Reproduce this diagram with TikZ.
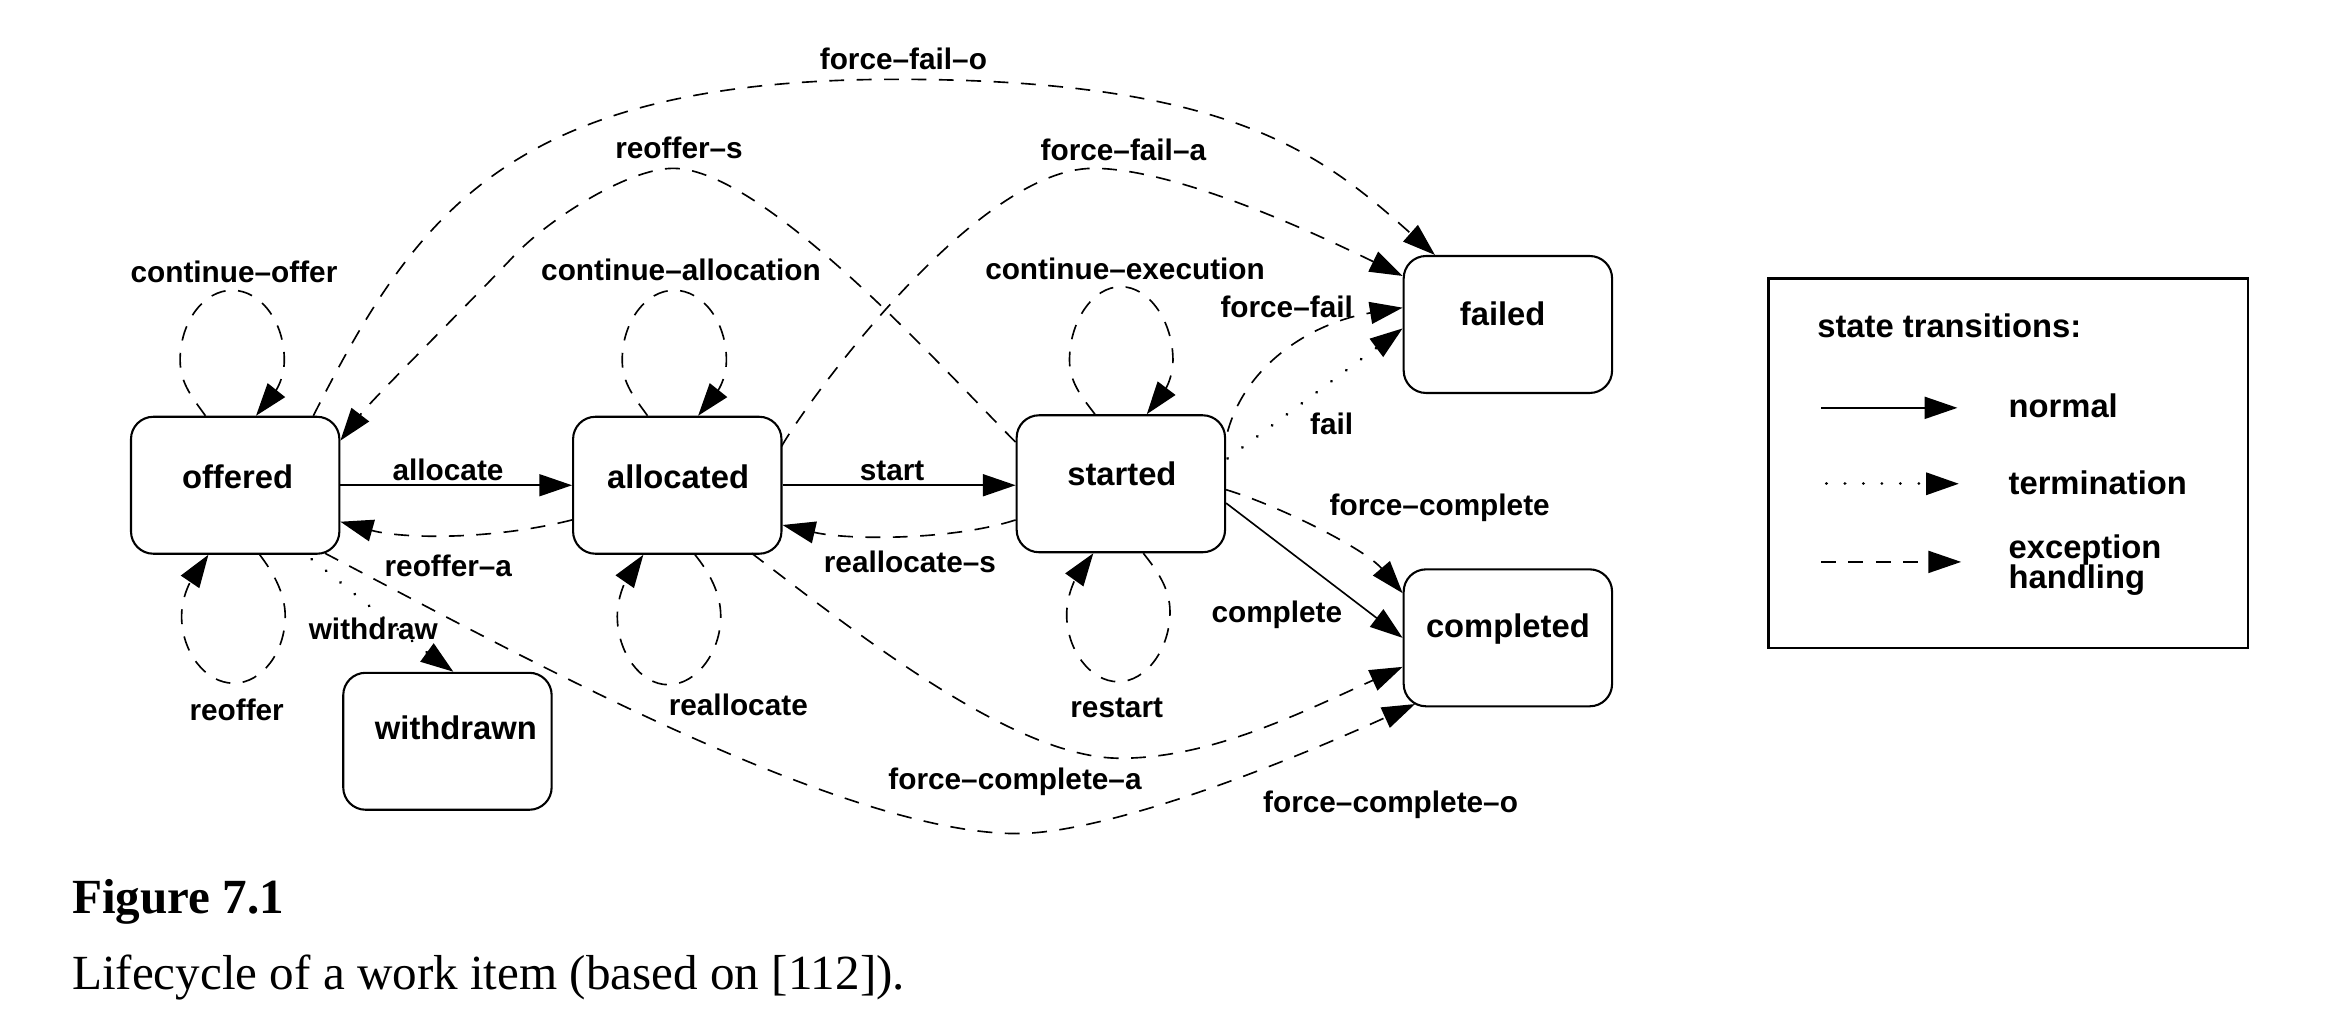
\documentclass[tikz,border=0pt]{standalone}
\usepackage{fontspec}
\setmainfont{Liberation Sans}
\newfontfamily\capfont{Liberation Serif}
\usetikzlibrary{arrows.meta,calc}
\begin{document}
\begin{tikzpicture}[x=0.5pt,y=-0.5pt,
  stbox/.style={draw,line width=0.7pt,rounded corners=7.5pt,minimum width=70pt,minimum height=46pt,inner sep=0pt},
  ntext/.style={font=\bfseries\fontsize{11}{13}\selectfont,inner sep=0pt,text height=0.72em,text depth=0pt},
  lbl/.style={font=\bfseries\fontsize{10}{12}\selectfont,inner sep=0pt,text height=0.72em,text depth=0pt},
  tr/.style={line width=0.55pt,-{Triangle[length=11pt,width=7.4pt]}},
  exc/.style={tr,dash pattern=on 5pt off 4.2pt},
  term/.style={tr,line width=1.05pt,line cap=round,dash pattern=on 0.01pt off 6.2pt},
  capb/.style={font=\capfont\bfseries\fontsize{16.5}{20}\selectfont,inner sep=0pt},
  capr/.style={font=\capfont\fontsize{16.5}{20}\selectfont,inner sep=0pt}]
\fill[white] (0,0) rectangle (1568,683);
\useasboundingbox (0,0) rectangle (1568,683);

% states
\node[stbox] (off) at (158,326) {};
\node[stbox] (alc) at (455,326) {};
\node[stbox] (sta) at (753,325) {};
\node[stbox] (fai) at (1013,218) {};
\node[stbox] (cmp) at (1013,428.5) {};
\node[stbox] (wdr) at (300.6,498) {};
\node[ntext] (offt) at (159.6,321.3) {offered};
\node[ntext] (alct) at (455.5,321.3) {allocated};
\node[ntext] (stat) at (753.7,319.1) {started};
\node[ntext] (fait) at (1009.5,211.6) {failed};
\node[ntext] (cmpt) at (1013,421) {completed};
\node[ntext] (wdrt) at (306.3,489.3) {withdrawn};

% normal transitions
\draw[tr] (off.east) -- (alc.west);
\draw[tr] (alc.east) -- (alc.east -| sta.west);
\draw[tr] ($(sta.east)+(0,13)$) -- (cmp.west);

% termination
\draw[term] ($(sta.east)+(1,-17)$) -- ($(fai.west)+(0,2.6)$);
\draw[term] ($(off.south)+(51.4,3)$) .. controls (240,400) and (274,429) .. ($(wdr.north)+(4,0)$);

% exception handling
\draw[exc] ($(alc.west)+(0,23.3)$) .. controls (330,363) and (270,362) .. ($(off.east)+(0,24.5)$);
\draw[exc] ($(sta.west)+(0,24.3)$) .. controls (640,363) and (570,363) .. ($(alc.east)+(0,26.7)$);

% self loops on top
\draw[exc] ($(off.north)+(-20,0)$) .. controls (130,268) and (121,258) .. (121,242)
  .. controls (121,216) and (137,195) .. (156,195)
  .. controls (175,195) and (191,216) .. (191,242)
  .. controls (191,258) and (181,268) .. ($(off.north)+(14,0)$);
\draw[exc] ($(alc.north)+(-20,0)$) .. controls (427,268) and (418,258) .. (418,242)
  .. controls (418,216) and (434,195) .. (453,195)
  .. controls (472,195) and (488,216) .. (488,242)
  .. controls (488,258) and (478,268) .. ($(alc.north)+(14,0)$);
\draw[exc] ($(sta.north)+(-17.4,0)$) .. controls (727,267) and (718.5,257) .. (718.5,242)
  .. controls (718.5,216) and (734,192.6) .. (753,192.6)
  .. controls (772,192.6) and (788,216) .. (788,242)
  .. controls (788,257) and (779,267) .. ($(sta.north)+(17.4,0)$);

% self loops at bottom
\draw[exc] ($(off.south)+(16.5,0)$) .. controls (183,384) and (191.6,398) .. (191.6,414)
  .. controls (191.6,438) and (176,459) .. (157,459)
  .. controls (138,459) and (122,438) .. (122,414)
  .. controls (122,398) and (131,386) .. ($(off.south)+(-18,0)$);
\draw[exc] ($(alc.south)+(11.9,0)$) .. controls (476,384) and (484.2,398) .. (484.2,414)
  .. controls (484.2,438) and (468,460) .. (449,460)
  .. controls (430,460) and (414.7,438) .. (414.7,414)
  .. controls (414.7,398) and (423,386) .. ($(alc.south)+(-22.8,0)$);
\draw[exc] ($(sta.south)+(15.1,0)$) .. controls (777,383) and (786,395) .. (786,411)
  .. controls (786,436) and (770,458) .. (751.3,458)
  .. controls (732,458) and (716.6,436) .. (716.6,413)
  .. controls (716.6,397) and (725,385) .. ($(sta.south)+(-18.5,0)$);

% long exception arcs
\draw[exc] ($(off.center)+(60.3,45.7)$) .. controls (337.3,433.6) and (564,560) .. (683,560)
  .. controls (743,560) and (858.9,514.7) .. ($(cmp.center)+(-62.4,44.5)$);
\draw[exc] ($(alc.center)+(50,45.7)$) .. controls (576.6,426.2) and (681.4,509.4) .. (752.4,509.4)
  .. controls (812.4,509.4) and (870,480.7) .. ($(cmp.west)+(0,19.5)$);
\draw[exc] ($(sta.east)+(0,4)$) .. controls (859.8,340) and (916.8,368.6) .. ($(cmp.west)+(0,-30)$);
\draw[exc] ($(sta.east)+(1,-35)$) .. controls (838,242) and (885,216) .. ($(fai.west)+(0,-11.3)$);
\draw[exc] ($(alc.east)+(-0.7,-26)$) .. controls (539.3,274) and (654.5,113.1) .. (734.5,113.1)
  .. controls (790.5,113.1) and (885.1,157.5) .. ($(fai.west)+(0,-32.6)$);
\draw[exc] ($(sta.west)+(0,-28)$) .. controls (640.1,255.1) and (514.3,113.1) .. (452.3,113.1)
  .. controls (422.3,113.1) and (368.7,146.9) .. (344.8,172.4)
  .. controls (320.9,198) and (250.5,267.6) .. ($(off.east)+(0,-30)$);
\draw[exc] ($(off.north)+(52.5,0)$) .. controls (278.9,145.3) and (340.4,53.3) .. (602.4,53.3)
  .. controls (828.4,53.3) and (888.7,104.4) .. ($(fai.north)+(-49,0)$);

% transition labels
\node[lbl] (l1) at (606.9,39.2) {force--fail--o};
\node[lbl] (l2) at (456.2,99) {reoffer--s};
\node[lbl] (l3) at (754.7,100.8) {force--fail--a};
\node[lbl] (l4) at (157.2,182.5) {continue--offer};
\node[lbl] (l5) at (457.5,181.4) {continue--allocation};
\node[lbl] (l6) at (755.8,180.3) {continue--execution};
\node[lbl] (l7) at (864.4,206) {force--fail};
\node[lbl] (l8) at (894.6,284.4) {fail};
\node[lbl] (l9) at (301,315.8) {allocate};
\node[lbl] (l10) at (599.3,315.8) {start};
\node[lbl] (l11) at (301.2,380.2) {reoffer--a};
\node[lbl] (l12) at (611.3,377.3) {reallocate--s};
\node[lbl] (l13) at (967.2,339.3) {force--complete};
\node[lbl] (l14) at (857.8,410.9) {complete};
\node[lbl] (l15) at (250.8,422.1) {withdraw};
\node[lbl] (l16) at (159,477) {reoffer};
\node[lbl] (l17) at (496,473.6) {reallocate};
\node[lbl] (l18) at (750.2,474.8) {restart};
\node[lbl] (l19) at (681.9,522.9) {force--complete--a};
\node[lbl] (l20) at (934.2,538.6) {force--complete--o};

% legend
\node[draw,line width=0.8pt,minimum width=161pt,minimum height=124.25pt,inner sep=0pt] (leg) at (1349,311.25) {};
\node[ntext,anchor=west] (legt) at (1220.5,219.5) {state transitions:};
\coordinate (na) at (1223.4,274);
\coordinate (nb) at (1315,274);
\coordinate (ta) at (1227,325);
\coordinate (tb) at (1316,325);
\coordinate (ea) at (1223.4,377.5);
\coordinate (eb) at (1317.5,377.5);
\draw[tr] (na) -- (nb);
\draw[term] (ta) -- (tb);
\draw[exc] (ea) -- (eb);
\node[ntext,anchor=west] (lgn) at (1349,273) {normal};
\node[ntext,anchor=west] (lgt) at (1349,325) {termination};
\node[ntext,anchor=west] (lge) at (1349,367.7) {exception};
\node[ntext,anchor=west] (lgh) at (1349,388) {handling};

% caption
\node[capb,anchor=base west] (fig) at (48,614) {Figure 7.1};
\node[capr,anchor=base west] (cap) at (48,665) {Lifecycle of a work item (based on [112]).};
\end{tikzpicture}
\end{document}
